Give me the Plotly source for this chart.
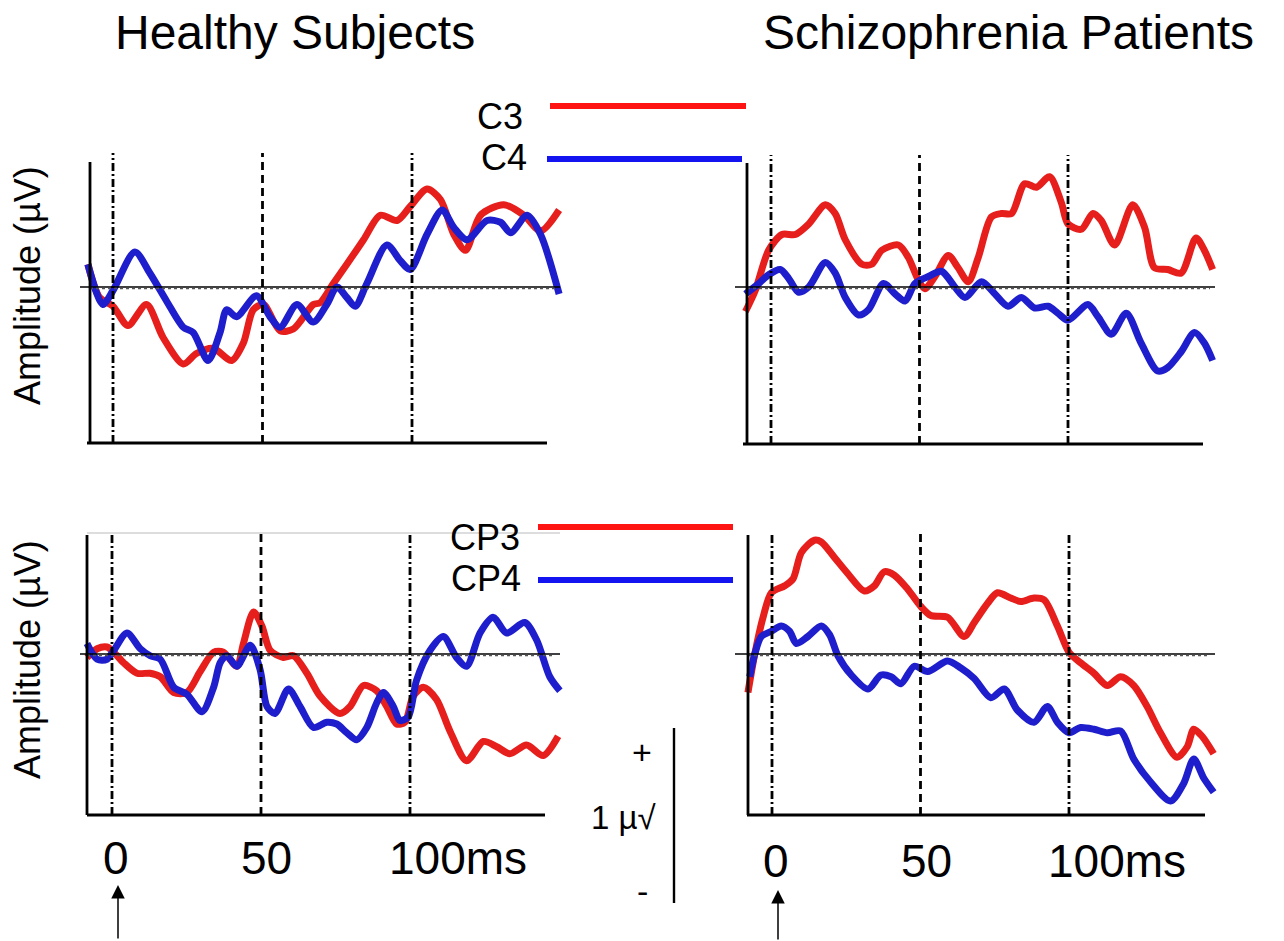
import plotly.graph_objects as go

# ---------------- data (time in ms, amplitude in µV) ----------------
# Healthy subjects, C3 / C4
h_c3_t = [-8.4, -4.5, 0.0, 5.0, 11.2, 16.8, 23.5, 27.9, 33.5, 39.7, 43.6, 46.9, 50.3, 55.9, 60.3, 67.0,
          69.3, 73.7, 78.2, 83.8, 89.4, 95.0, 99.4, 105.0, 109.5, 114.0, 117.9, 122.9, 130.7, 137.4, 143.0, 149.2]
h_c3_v = [0.13, -0.06, -0.11, -0.22, -0.10, -0.29, -0.44, -0.38, -0.35, -0.42, -0.32, -0.13, -0.10, -0.25, -0.24, -0.10,
          -0.09, 0.02, 0.13, 0.27, 0.41, 0.38, 0.46, 0.56, 0.50, 0.30, 0.21, 0.41, 0.47, 0.41, 0.32, 0.44]
h_c4_t = [-8.4, -3.4, 0.0, 7.3, 12.3, 17.9, 23.5, 26.8, 31.8, 35.8, 38.0, 41.3, 48.0, 52.5, 55.9, 61.5, 67.0, 71.5,
          74.9, 78.2, 81.0, 84.9, 91.6, 96.1, 99.4, 105.0, 110.1, 114.0, 118.4, 125.1, 129.6, 133.0, 138.5, 143.0, 149.2]
h_c4_v = [0.13, -0.10, -0.02, 0.20, 0.08, -0.08, -0.23, -0.26, -0.42, -0.26, -0.13, -0.17, -0.05, -0.17, -0.23, -0.10, -0.20, -0.10,
          0.00, -0.06, -0.11, 0.02, 0.24, 0.15, 0.10, 0.30, 0.44, 0.34, 0.27, 0.38, 0.37, 0.31, 0.41, 0.30, -0.04]

# Schizophrenia patients, C3 / C4
s_c3_t = [-8.6, -5.3, -0.8, 3.7, 8.2, 12.7, 18.3, 21.6, 25.0, 30.6, 33.9, 37.3, 42.9, 46.2, 49.6, 51.8, 55.2, 59.7, 63.0, 66.4,
          69.8, 74.2, 77.6, 81.0, 85.4, 89.4, 93.8, 97.8, 100.0, 104.5, 108.4, 111.2, 115.7, 121.8, 125.8, 129.1, 133.6, 138.1,
          143.1, 145.9, 148.7]
s_c3_v = [-0.14, -0.02, 0.21, 0.30, 0.30, 0.36, 0.47, 0.42, 0.27, 0.13, 0.13, 0.21, 0.24, 0.17, 0.04, -0.01, 0.06, 0.18, 0.11, 0.03,
          0.17, 0.40, 0.42, 0.42, 0.59, 0.57, 0.63, 0.48, 0.36, 0.33, 0.42, 0.38, 0.24, 0.47, 0.34, 0.11, 0.10, 0.08,
          0.28, 0.21, 0.10]
s_c4_t = [-8.6, -4.1, -0.8, 3.1, 5.9, 9.3, 12.7, 18.3, 21.6, 25.0, 29.5, 32.8, 37.9, 41.8, 45.1, 48.5, 53.0, 57.4, 61.9, 65.3,
          70.9, 75.4, 79.8, 84.3, 88.8, 93.3, 96.6, 100.0, 106.7, 110.1, 114.6, 119.6, 124.6, 130.2, 133.6, 138.1, 142.6, 145.9, 148.7]
s_c4_v = [-0.04, 0.02, 0.07, 0.10, 0.05, -0.03, 0.00, 0.14, 0.08, -0.06, -0.16, -0.13, 0.02, -0.04, -0.08, 0.02, 0.06, 0.09, 0.00, -0.06,
          0.03, -0.04, -0.11, -0.06, -0.12, -0.11, -0.15, -0.19, -0.10, -0.17, -0.27, -0.15, -0.32, -0.48, -0.46, -0.37, -0.26, -0.32, -0.42]

# Healthy subjects, CP3 / CP4
h_cp3_t = [-8.4, -5.0, -1.7, 0.6, 3.9, 8.4, 12.8, 16.2, 20.7, 25.1, 29.6, 34.1, 37.4, 41.9, 44.1, 47.5, 50.3, 53.1, 57.5, 60.9,
           65.4, 69.8, 76.5, 79.9, 84.4, 88.8, 92.2, 95.5, 98.3, 101.1, 104.5, 108.9, 113.4, 119.0, 124.6, 129.1, 133.5, 139.1, 144.7, 149.7]
h_cp3_v = [-0.02, 0.03, 0.04, 0.01, -0.05, -0.11, -0.11, -0.13, -0.22, -0.22, -0.10, 0.01, 0.01, -0.07, 0.06, 0.24, 0.16, 0.02, -0.02, -0.01,
           -0.11, -0.24, -0.34, -0.30, -0.18, -0.21, -0.30, -0.40, -0.39, -0.24, -0.19, -0.26, -0.44, -0.61, -0.50, -0.53, -0.57, -0.52, -0.58, -0.47]
h_cp4_t = [-8.4, -5.0, -1.7, 0.6, 5.0, 9.5, 12.8, 16.2, 20.7, 25.1, 30.2, 34.1, 36.3, 38.5, 41.9, 46.4, 49.7, 52.0, 54.7, 59.2, 63.1, 67.6,
           72.1, 75.4, 78.8, 82.1, 85.5, 88.8, 91.1, 94.4, 96.6, 99.4, 102.2, 106.7, 111.2, 115.6, 119.0, 123.5, 127.9, 132.4, 138.5, 142.5, 146.9, 150.3]
h_cp4_v = [0.06, -0.03, -0.03, 0.02, 0.12, 0.03, -0.01, -0.03, -0.19, -0.23, -0.33, -0.19, -0.05, -0.01, -0.07, 0.05, -0.09, -0.30, -0.34, -0.20, -0.30, -0.42,
           -0.39, -0.40, -0.45, -0.49, -0.42, -0.28, -0.22, -0.30, -0.38, -0.36, -0.15, 0.02, 0.10, -0.02, -0.07, 0.12, 0.21, 0.12, 0.18, 0.08, -0.13, -0.21]

# Schizophrenia patients, CP3 / CP4
s_cp3_t = [-8.1, -5.8, -3.0, -0.2, 4.3, 7.1, 9.9, 14.3, 16.6, 21.1, 25.5, 31.1, 34.5, 37.8, 41.2, 45.7, 50.2, 53.5, 59.1, 64.7, 68.1,
           72.6, 75.9, 80.4, 83.8, 88.2, 91.6, 96.1, 100.0, 103.9, 108.4, 112.9, 117.4, 121.8, 126.3, 130.8, 136.4, 139.8, 142.0, 144.8, 148.7]
s_cp3_v = [-0.22, 0.00, 0.21, 0.35, 0.39, 0.43, 0.58, 0.65, 0.64, 0.55, 0.46, 0.36, 0.39, 0.47, 0.45, 0.37, 0.27, 0.22, 0.21, 0.10, 0.18,
           0.29, 0.35, 0.32, 0.30, 0.32, 0.31, 0.16, 0.01, -0.05, -0.11, -0.18, -0.13, -0.18, -0.30, -0.45, -0.59, -0.53, -0.43, -0.47, -0.57]
s_cp4_t = [-7.5, -5.8, -3.6, -0.2, 3.1, 5.9, 8.2, 12.1, 16.6, 19.4, 22.2, 26.7, 32.3, 36.7, 40.1, 43.4, 47.9, 52.4, 59.1, 63.6,
           68.1, 73.7, 78.2, 82.6, 88.2, 92.7, 96.1, 100.0, 103.9, 108.4, 112.9, 117.4, 121.8, 127.4, 134.2, 138.6, 142.0, 145.4, 148.7]
s_cp4_v = [-0.13, 0.00, 0.10, 0.13, 0.16, 0.13, 0.06, 0.10, 0.16, 0.11, -0.01, -0.12, -0.20, -0.12, -0.13, -0.17, -0.07, -0.10, -0.04, -0.08,
           -0.14, -0.25, -0.20, -0.32, -0.39, -0.30, -0.39, -0.45, -0.42, -0.43, -0.45, -0.44, -0.60, -0.73, -0.84, -0.74, -0.60, -0.71, -0.79]

group_titles = ["Healthy Subjects", "Schizophrenia Patients"]
tick_vals = [0, 50, 100]
tick_text = ["0", "50", "100ms"]
legend_top = ["C3", "C4"]
legend_bottom = ["CP3", "CP4"]
y_title = "Amplitude (µV)"

# ---------------- layout geometry (pixels) ----------------
W, H = 1284, 941
FONT = "Liberation Sans, Arial, sans-serif"
RED = "#e61e1c"
BLUE = "#1e1ecc"
PX_PER_UV = 175.0

panels = [
    dict(t0=113, ppm=2.99, zero=287, box=(75, 570, 145, 455), yax=(90, 162, 443), xax=(87, 547), vtop=153,
         zl=(80, 560), s=[(h_c3_t, h_c3_v, RED), (h_c4_t, h_c4_v, BLUE)]),
    dict(t0=771, ppm=2.97, zero=287, box=(730, 1225, 145, 455), yax=(747, 163, 444), xax=(743, 1203), vtop=155,
         zl=(735, 1215), s=[(s_c3_t, s_c3_v, RED), (s_c4_t, s_c4_v, BLUE)]),
    dict(t0=112, ppm=2.98, zero=654, box=(75, 570, 525, 825), yax=(87, 535, 815), xax=(87, 545), vtop=532,
         zl=(80, 560), s=[(h_cp3_t, h_cp3_v, RED), (h_cp4_t, h_cp4_v, BLUE)]),
    dict(t0=772, ppm=2.97, zero=654, box=(730, 1225, 525, 825), yax=(748, 535, 815), xax=(747, 1205), vtop=532,
         zl=(735, 1215), s=[(s_cp3_t, s_cp3_v, RED), (s_cp4_t, s_cp4_v, BLUE)]),
]


def px2t(p, px):
    return (px - p["t0"]) / p["ppm"]


def py2v(p, py):
    return (p["zero"] - py) / PX_PER_UV


fig = go.Figure()
shapes = []
annotations = []
layout_axes = {}

for i, p in enumerate(panels):
    n = "" if i == 0 else str(i + 1)
    xref, yref = "x" + n, "y" + n
    l, r, t, b = p["box"]
    layout_axes["xaxis" + n] = dict(domain=[l / W, r / W], range=[px2t(p, l), px2t(p, r)],
                                    visible=False, anchor=yref, fixedrange=True)
    layout_axes["yaxis" + n] = dict(domain=[1 - b / H, 1 - t / H], range=[py2v(p, b), py2v(p, t)],
                                    visible=False, anchor=xref, fixedrange=True)
    # zero line (solid + dotted)
    shapes.append(dict(type="line", xref=xref, yref=yref, x0=px2t(p, p["zl"][0]), x1=px2t(p, p["zl"][1]),
                       y0=0, y1=0, line=dict(color="black", width=1.4)))
    shapes.append(dict(type="line", xref=xref, yref=yref, x0=px2t(p, p["yax"][0]), x1=px2t(p, p["zl"][1] - 5),
                       y0=py2v(p, p["zero"] + 1.5), y1=py2v(p, p["zero"] + 1.5),
                       line=dict(color="#555555", width=1.6, dash="dot")))
    # vertical reference lines at 0, 50, 100 ms
    for tv in tick_vals:
        shapes.append(dict(type="line", xref=xref, yref=yref, x0=tv, x1=tv,
                           y0=py2v(p, p["yax"][2]), y1=py2v(p, p["vtop"]),
                           line=dict(color="black", width=2.8,
                                     dash="8px,5px" if tv == 50 else "8px,3px,2px,3px")))
    # axis lines
    shapes.append(dict(type="line", xref=xref, yref=yref, x0=px2t(p, p["yax"][0]), x1=px2t(p, p["yax"][0]),
                       y0=py2v(p, p["yax"][1]), y1=py2v(p, p["yax"][2]), line=dict(color="black", width=2.8)))
    shapes.append(dict(type="line", xref=xref, yref=yref, x0=px2t(p, p["xax"][0]), x1=px2t(p, p["xax"][1]),
                       y0=py2v(p, p["yax"][2]), y1=py2v(p, p["yax"][2]), line=dict(color="black", width=2.8)))
    for tt, vv, col in p["s"]:
        fig.add_trace(go.Scatter(x=tt, y=vv, xaxis=xref, yaxis=yref, mode="lines",
                                 line=dict(color=col, width=7, shape="spline", smoothing=0.8),
                                 showlegend=False, hoverinfo="skip"))

# faint top border of bottom-left panel
shapes.append(dict(type="line", xref="paper", yref="paper", x0=87 / W, x1=560 / W, y0=1 - 533 / H, y1=1 - 533 / H,
                   line=dict(color="#bbbbbb", width=1)))

# tick label annotations below bottom panels
for i, p in ((2, panels[2]), (3, panels[3])):
    n = str(i + 1)
    ypx = 858 if i == 2 else 861
    for tv, tx in zip(tick_vals, tick_text):
        if tx == "100ms":
            annotations.append(dict(xref="x" + n, yref="paper", x=tv - 7.6, y=1 - ypx / H, text=tx,
                                    xanchor="left", yanchor="middle", showarrow=False,
                                    font=dict(family=FONT, size=46, color="black")))
        else:
            annotations.append(dict(xref="x" + n, yref="paper", x=tv + (1.5 if tv == 0 else 2.0), y=1 - ypx / H,
                                    text=tx, xanchor="center", yanchor="middle", showarrow=False,
                                    font=dict(family=FONT, size=46, color="black")))

# group titles
annotations.append(dict(xref="paper", yref="paper", x=295 / W, y=1 - 33 / H, text=group_titles[0],
                        showarrow=False, xanchor="center", yanchor="middle",
                        font=dict(family=FONT, size=48, color="black")))
annotations.append(dict(xref="paper", yref="paper", x=1008 / W, y=1 - 33 / H, text=group_titles[1],
                        showarrow=False, xanchor="center", yanchor="middle",
                        font=dict(family=FONT, size=48, color="black")))

# y-axis titles
for yc in (286, 660):
    annotations.append(dict(xref="paper", yref="paper", x=27 / W, y=1 - yc / H, text=y_title, textangle=-90,
                            showarrow=False, xanchor="center", yanchor="middle",
                            font=dict(family=FONT, size=36, color="black")))

# legends
leg = [(legend_top[0], 500, 117, 550, 746, 106, "#ff1414"),
       (legend_top[1], 504, 158, 547, 742, 159, "#1414f0"),
       (legend_bottom[0], 485, 537, 538, 733, 527, "#ff1414"),
       (legend_bottom[1], 486, 578, 538, 733, 580, "#1414f0")]
for txt, tx, ty, lx0, lx1, ly, col in leg:
    annotations.append(dict(xref="paper", yref="paper", x=tx / W, y=1 - ty / H, text=txt, showarrow=False,
                            xanchor="center", yanchor="middle", font=dict(family=FONT, size=36, color="black")))
    shapes.append(dict(type="line", xref="paper", yref="paper", x0=lx0 / W, x1=lx1 / W, y0=1 - ly / H, y1=1 - ly / H,
                       line=dict(color=col, width=6)))

# scale bar
shapes.append(dict(type="line", xref="paper", yref="paper", x0=674 / W, x1=674 / W, y0=1 - 728 / H, y1=1 - 903 / H,
                   line=dict(color="black", width=2.4)))
for txt, x, y, sz in (("+", 642, 752, 34), ("1 µ√", 624, 817, 33), ("-", 642, 891, 34)):
    annotations.append(dict(xref="paper", yref="paper", x=x / W, y=1 - y / H, text=txt, showarrow=False,
                            xanchor="center", yanchor="middle", font=dict(family=FONT, size=sz, color="black")))

# stimulus-onset arrows
for xpx, tip, tail in ((118, 885, 940), (778, 890, 945)):
    annotations.append(dict(xref="paper", yref="paper", x=xpx / W, y=1 - tip / H, text="", showarrow=True,
                            ax=0, ay=tail - tip, arrowhead=2, arrowsize=1.8, arrowwidth=1.5, arrowcolor="black"))

fig.update_layout(width=W, height=H, margin=dict(l=0, r=0, t=0, b=0), paper_bgcolor="white",
                  plot_bgcolor="rgba(0,0,0,0)", shapes=shapes, annotations=annotations, showlegend=False,
                  **layout_axes)
fig.write_html("out.html", config={"displayModeBar": False})
